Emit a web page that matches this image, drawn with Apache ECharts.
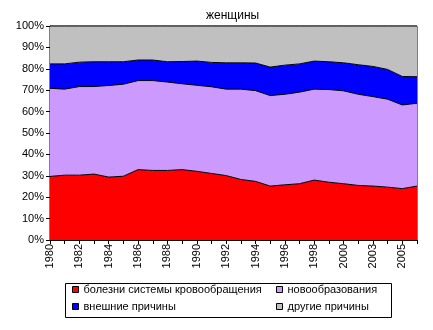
<!DOCTYPE html>
<html>
<head>
<meta charset="utf-8">
<script src="https://cdn.jsdelivr.net/npm/echarts@6/dist/echarts.min.js"></script>
<style>
  html, body { margin: 0; padding: 0; background: #fff; }
  #chart { width: 433px; height: 330px; }
</style>
</head>
<body>
<div id="chart"></div>
<script>
// Years (one year absent from the series after 2000)
const years = ['1980','1981','1982','1983','1984','1985','1986','1987','1988','1989',
  '1990','1991','1992','1993','1994','1995','1996','1997','1998','1999',
  '2000','2002','2003','2004','2005','2006'];

// Shares of deaths by cause, % (women)
const circulatory = [29.7,30.3,30.3,30.8,29.4,29.8,32.9,32.5,32.5,32.9,
  32.1,31.1,30.1,28.3,27.4,25.2,25.8,26.3,28.0,27.0,
  26.3,25.5,25.2,24.7,24.0,25.2];
const neoplasms = [41.2,40.2,41.4,40.9,42.8,43.0,41.6,42.0,41.3,40.1,
  40.2,40.5,40.4,42.2,42.4,42.3,42.3,42.8,42.5,43.3,
  43.4,42.6,41.8,41.1,39.1,38.7];
const external = [11.4,11.8,11.4,11.6,11.1,10.5,9.6,9.6,9.5,10.4,
  11.3,11.4,12.3,12.3,12.9,13.3,13.6,13.2,13.1,13.0,
  13.1,13.8,14.1,13.9,13.3,12.4];
const other = [17.7,17.7,16.9,16.7,16.7,16.7,15.9,15.9,16.7,16.6,
  16.4,17.0,17.2,17.2,17.3,19.2,18.3,17.7,16.4,16.7,
  17.2,18.1,18.9,20.3,23.6,23.7];

const seriesNames = ['болезни системы кровообращения', 'новообразования', 'внешние причины', 'другие причины'];
const seriesColors = ['#FF0000', '#CC99FF', '#0000FF', '#C0C0C0'];
const seriesData = [circulatory, neoplasms, external, other];

const FONT = 'Liberation Sans, Arial, sans-serif';

const chart = echarts.init(document.getElementById('chart'), null, { renderer: 'canvas' });

const legendCommon = {
  orient: 'vertical',
  icon: 'rect',
  itemWidth: 6,
  itemHeight: 6,
  itemGap: 6,
  padding: 0,
  itemStyle: { borderColor: '#000', borderWidth: 1 },
  textStyle: { fontFamily: FONT, fontSize: 11, color: '#000' },
  selectedMode: false
};

chart.setOption({
  animation: false,
  backgroundColor: '#fff',
  title: {
    text: 'женщины',
    left: 201,
    top: 5,
    textStyle: { fontFamily: FONT, fontSize: 12, fontWeight: 'normal', color: '#000' }
  },
  legend: [
    Object.assign({}, legendCommon, { data: [seriesNames[0], seriesNames[2]], left: 72, top: 284 }),
    Object.assign({}, legendCommon, { data: [seriesNames[1], seriesNames[3]], left: 276, top: 284 })
  ],
  graphic: [{
    type: 'rect',
    shape: { x: 65.5, y: 283.5, width: 326, height: 34 },
    style: { fill: 'none', stroke: '#000', lineWidth: 1 },
    z: 100
  }],
  grid: {
    left: 50, top: 26, width: 367, height: 214,
    show: true, borderColor: '#000', borderWidth: 1, backgroundColor: 'transparent'
  },
  xAxis: {
    type: 'category',
    data: years,
    boundaryGap: false,
    axisLine: { lineStyle: { color: '#000', width: 1 } },
    axisTick: { show: true, interval: 0, length: 4, lineStyle: { color: '#000' } },
    axisLabel: {
      interval: 1, rotate: 90, margin: 4,
      fontFamily: FONT, fontSize: 11, color: '#000'
    },
    splitLine: { show: false }
  },
  yAxis: {
    type: 'value',
    min: 0, max: 100, interval: 10,
    axisLine: { show: true, lineStyle: { color: '#000', width: 1 } },
    axisTick: { show: true, length: 4, lineStyle: { color: '#000' } },
    axisLabel: { formatter: '{value}%', margin: 6, fontFamily: FONT, fontSize: 11, color: '#000' },
    splitLine: { show: false }
  },
  series: seriesData.map((d, i) => ({
    name: seriesNames[i],
    type: 'line',
    stack: 'total',
    data: d,
    color: seriesColors[i],
    itemStyle: { color: seriesColors[i] },
    showSymbol: false,
    symbol: 'none',
    lineStyle: { color: '#000', width: 1 },
    areaStyle: { color: seriesColors[i], opacity: 1 }
  }))
});
</script>
</body>
</html>
